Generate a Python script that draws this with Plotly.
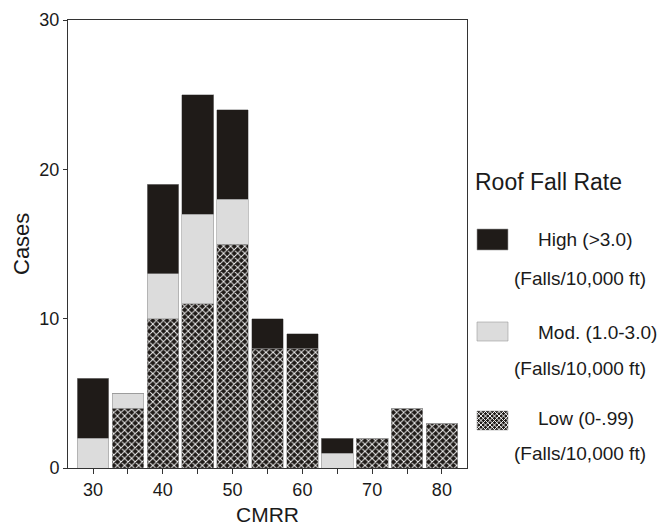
import plotly.graph_objects as go

# Data
cmrr_bins = [30, 35, 40, 45, 50, 55, 60, 65, 70, 75, 80]
low_cases = [0, 4, 10, 11, 15, 8, 8, 0, 2, 4, 3]
mod_cases = [2, 1, 3, 6, 3, 0, 0, 1, 0, 0, 0]
high_cases = [4, 0, 6, 8, 6, 2, 1, 1, 0, 0, 0]

x_tickvals = [30, 35, 40, 45, 50, 55, 60, 65, 70, 75, 80]
x_ticktext = ["30", "", "40", "", "50", "", "60", "", "70", "", "80"]
y_tickvals = [0, 10, 20, 30]

series_names = ["Low (0-.99)", "Mod. (1.0-3.0)", "High (>3.0)"]
unit_label = "(Falls/10,000 ft)"
legend_title = "Roof Fall Rate"
x_title = "CMRR"
y_title = "Cases"

FONT = "Liberation Sans, Arial, sans-serif"
DARK = "#1f1b18"
GRAY = "#dcdcdc"
TXT = "#1a1a1a"

W, H = 665, 529
PL, PR, PT, PB = 68, 467, 20, 468


def px(x):
    return (x - PL) / (PR - PL)


def py(y):
    return (PB - y) / (PB - PT)


low_pattern = dict(shape="x", fgcolor="#f0f0f0", bgcolor=DARK,
                   size=5, solidity=0.35, fillmode="replace")

fig = go.Figure()
fig.add_trace(go.Bar(
    x=cmrr_bins, y=low_cases, name=series_names[0],
    marker=dict(color=DARK, pattern=low_pattern,
                line=dict(color="#9a9a9a", width=0.6)),
    width=4.55,
))
fig.add_trace(go.Bar(
    x=cmrr_bins, y=mod_cases, name=series_names[1],
    marker=dict(color=GRAY, line=dict(color="#9a9a9a", width=0.6)),
    width=4.55,
))
fig.add_trace(go.Bar(
    x=cmrr_bins, y=high_cases, name=series_names[2],
    marker=dict(color=DARK, line=dict(color="#9a9a9a", width=0.6)),
    width=4.55,
))

annotations = []
shapes = []


def text(x, y, s, size, anchor="left", angle=0):
    annotations.append(dict(
        x=px(x), y=py(y), xref="paper", yref="paper", text=s,
        showarrow=False, xanchor=anchor, yanchor="middle", textangle=angle,
        font=dict(family=FONT, size=size, color=TXT),
    ))


# axis titles
text(21, 244, y_title, 22, anchor="center", angle=-90)
text(267, 514, x_title, 21, anchor="center")

# ---- manual legend (keys + texts) ----
text(473, 182, legend_title, 23)

key_x0, key_x1 = 477, 508
items = [
    # (name, key top, key bottom, first line y, second line y, fill)
    (series_names[2], 229, 250, 239, 278, DARK),
    (series_names[1], 322, 341, 332, 368, GRAY),
    (series_names[0], 411, 430, 418, 453, "pattern"),
]
for name, ky0, ky1, ly1, ly2, fill in items:
    fc = DARK if fill == "pattern" else fill
    shapes.append(dict(
        type="rect", xref="paper", yref="paper",
        x0=px(key_x0), x1=px(key_x1), y0=py(ky1), y1=py(ky0),
        fillcolor=fc, line=dict(color="#9a9a9a", width=0.6), layer="above",
    ))
    if fill == "pattern":
        segs = []
        s = 4.5
        c = key_x0 - ky1
        while c <= key_x1 - ky0:
            xa = max(key_x0, ky0 + c)
            xb = min(key_x1, ky1 + c)
            if xb > xa:
                segs.append((xa, xa - c, xb, xb - c))
            c += s
        c = key_x0 + ky0
        while c <= key_x1 + ky1:
            xa = max(key_x0, c - ky1)
            xb = min(key_x1, c - ky0)
            if xb > xa:
                segs.append((xa, c - xa, xb, c - xb))
            c += s
        path = " ".join(
            f"M{px(a):.5f},{py(b):.5f} L{px(cx):.5f},{py(d):.5f}"
            for a, b, cx, d in segs)
        shapes.append(dict(
            type="path", xref="paper", yref="paper", path=path,
            line=dict(color="#eeeeee", width=1), layer="above",
        ))
    text(536, ly1, name, 19)
    text(512, ly2, unit_label, 19)

fig.update_layout(
    width=W, height=H,
    barmode="stack",
    showlegend=False,
    plot_bgcolor="white", paper_bgcolor="white",
    margin=dict(l=PL, r=W - PR, t=PT, b=H - PB, autoexpand=False),
    font=dict(family=FONT, color=TXT, size=18),
    annotations=annotations,
    shapes=shapes,
    xaxis=dict(
        range=[26.4, 83.6],
        tickvals=x_tickvals, ticktext=x_ticktext,
        ticks="outside", ticklen=5, tickcolor="#333",
        showline=True, linecolor="#333", linewidth=1, mirror=True,
        showgrid=False, zeroline=False, automargin=False,
        tickfont=dict(size=18),
    ),
    yaxis=dict(
        range=[0, 30],
        tickvals=y_tickvals,
        ticks="outside", ticklen=4, tickcolor="#333",
        showline=True, linecolor="#333", linewidth=1, mirror=True,
        showgrid=False, zeroline=False, automargin=False,
        tickfont=dict(size=18),
    ),
)

fig.write_html(
    "out.html",
    config={"displayModeBar": False},
    post_script="document.body.style.margin='0';"
                "document.body.style.overflow='hidden';",
)
